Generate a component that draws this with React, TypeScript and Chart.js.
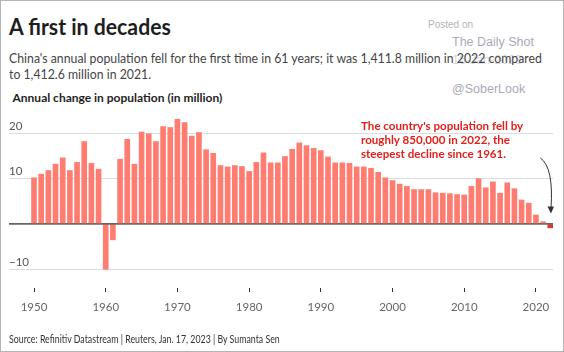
import React, { useEffect, useRef } from 'react';
import { Chart, registerables } from 'chart.js';

Chart.register(...registerables);

const years = [
  1950, 1951, 1952, 1953, 1954, 1955, 1956, 1957, 1958, 1959,
  1960, 1961, 1962, 1963, 1964, 1965, 1966, 1967, 1968, 1969,
  1970, 1971, 1972, 1973, 1974, 1975, 1976, 1977, 1978, 1979,
  1980, 1981, 1982, 1983, 1984, 1985, 1986, 1987, 1988, 1989,
  1990, 1991, 1992, 1993, 1994, 1995, 1996, 1997, 1998, 1999,
  2000, 2001, 2002, 2003, 2004, 2005, 2006, 2007, 2008, 2009,
  2010, 2011, 2012, 2013, 2014, 2015, 2016, 2017, 2018, 2019,
  2020, 2021, 2022,
];

const changeMillion = [
  10.2, 11.0, 11.8, 13.2, 14.6, 11.8, 13.6, 18.2, 13.4, 12.1,
  -10.0, -3.5, 14.3, 18.7, 13.2, 20.3, 19.9, 18.2, 21.5, 21.3,
  23.1, 22.4, 19.4, 20.2, 16.4, 15.6, 12.9, 12.6, 12.9, 12.7,
  11.6, 13.6, 15.7, 13.5, 13.5, 14.9, 16.5, 17.9, 17.3, 16.7,
  16.2, 14.8, 13.5, 13.5, 13.4, 12.6, 12.6, 12.3, 11.4, 10.2,
  9.6, 8.8, 8.3, 7.6, 7.6, 7.6, 6.9, 6.8, 6.7, 6.5,
  6.4, 8.3, 10.0, 8.0, 9.3, 6.8, 9.1, 7.8, 5.3, 4.6,
  2.0, 0.5, -0.85,
];

const xTickYears = [1950, 1960, 1970, 1980, 1990, 2000, 2010, 2020];
const yTickValues = [-10, 0, 10, 20];

const FONT = "'Source Sans Pro', Lato, 'Noto Sans', sans-serif";
const BAR = '#ff7c70';
const BAR_LAST = '#e8302c';

const arrowPlugin = {
  id: 'arrowPlugin',
  afterDatasetsDraw(chart: any) {
    const { ctx, scales } = chart;
    const x = scales.x;
    const y = scales.y;
    ctx.save();
    // zero line over bars
    ctx.strokeStyle = '#666';
    ctx.lineWidth = 1.5;
    ctx.beginPath();
    ctx.moveTo(chart.chartArea.left, y.getPixelForValue(0));
    ctx.lineTo(chart.chartArea.right, y.getPixelForValue(0));
    ctx.stroke();
    // curved arrow
    const sx = x.getPixelForValue(2020.6);
    const sy = y.getPixelForValue(14.6);
    const ex = x.getPixelForValue(2022.1);
    const ey = y.getPixelForValue(2.3);
    const cx = x.getPixelForValue(2022.5);
    const cy = y.getPixelForValue(12.5);
    ctx.strokeStyle = '#333';
    ctx.lineWidth = 1;
    ctx.beginPath();
    ctx.moveTo(sx, sy);
    ctx.quadraticCurveTo(cx, cy, ex, ey - 5);
    ctx.stroke();
    ctx.fillStyle = '#333';
    ctx.beginPath();
    ctx.moveTo(ex, ey);
    ctx.lineTo(ex - 3.5, ey - 7);
    ctx.lineTo(ex + 3, ey - 7);
    ctx.closePath();
    ctx.fill();
    ctx.restore();
  },
};

function ChartCanvas() {
  const ref = useRef<HTMLCanvasElement | null>(null);
  useEffect(() => {
    if (!ref.current) return;
    const data = years.map((yr, i) => ({ x: yr, y: changeMillion[i] }));
    const chart = new Chart(ref.current, {
      type: 'bar',
      data: {
        datasets: [
          {
            data: data as any,
            backgroundColor: years.map((yr) => (yr === 2022 ? BAR_LAST : BAR)),
            barThickness: 5,
            borderWidth: 0,
          },
        ],
      },
      options: {
        animation: false,
        responsive: false,
        devicePixelRatio: 1,
        layout: { padding: { left: 9, right: 11, top: 115, bottom: 34 } },
        plugins: { legend: { display: false }, tooltip: { enabled: false } },
        scales: {
          x: {
            type: 'linear',
            offset: false,
            min: 1946.51,
            max: 2022.38,
            afterBuildTicks: (s: any) => {
              s.ticks = xTickYears.map((v) => ({ value: v }));
            },
            afterFit: (s: any) => {
              s.height = 30;
            },
            border: { display: false },
            grid: { offset: false, drawOnChartArea: false, drawTicks: true, tickLength: 4, color: '#333' },
            ticks: {
              padding: 8,
              color: '#666',
              font: { family: FONT, size: 11.5 },
              maxRotation: 0,
              callback: (v: any) => String(v),
            },
          },
          y: {
            min: -14.13,
            max: 24.06,
            afterBuildTicks: (s: any) => {
              s.ticks = yTickValues.map((v) => ({ value: v }));
            },
            afterFit: (s: any) => {
              s.width = 0;
            },
            border: { display: false },
            grid: {
              drawTicks: false,
              color: (c: any) => (c.tick && c.tick.value === 0 ? '#666' : '#dcdcdc'),
              lineWidth: 1,
            },
            ticks: {
              mirror: true,
              padding: 0,
              labelOffset: -7,
              color: '#555',
              font: { family: FONT, size: 11.5 },
              callback: (v: any) => (v === 0 ? '' : v < 0 ? '\u2212' + Math.abs(v) : String(v)),
            },
          },
        },
      },
      plugins: [arrowPlugin],
    });
    return () => chart.destroy();
  }, []);
  return (
    <canvas
      ref={ref}
      width={564}
      height={352}
      style={{ position: 'absolute', left: 0, top: 0, width: 564, height: 352 }}
    />
  );
}

export default function App() {
  useEffect(() => {
    document.body.style.margin = '0';
  }, []);
  const abs = (extra: React.CSSProperties): React.CSSProperties => ({
    position: 'absolute',
    whiteSpace: 'nowrap',
    margin: 0,
    transformOrigin: '0 0',
    ...extra,
  });
  const WM = "'Liberation Sans', Arial, sans-serif";
  return (
    <div style={{ position: 'relative', width: 564, height: 352, background: '#fff', overflow: 'hidden', fontFamily: FONT }}>
      {/* watermark */}
      <div style={abs({ left: 428, top: 19, fontFamily: WM, fontSize: 10, lineHeight: '12px', color: '#b4b4b4' })}>Posted on</div>
      <div style={abs({ left: 452, top: 35, fontFamily: WM, fontSize: 12.5, lineHeight: '15px', color: '#aaaab8' })}>The Daily Shot</div>
      <div style={abs({ left: 452, top: 53, fontFamily: WM, fontSize: 12.5, lineHeight: '15px', color: '#d6d6dc' })}>16-Jan-2023</div>
      <div style={abs({ left: 452, top: 82, fontFamily: WM, fontSize: 12.5, lineHeight: '15px', color: '#aaaab8' })}>@SoberLook</div>

      <div style={abs({ left: 9, top: 14, fontSize: 22, fontWeight: 700, lineHeight: '26px', color: '#1e1e1e', transform: 'scaleX(0.965)' })}>A first in decades</div>
      <div style={abs({ left: 9, top: 50, fontSize: 14, lineHeight: '16px', color: '#444', transform: 'scaleX(0.878)' })}>
        China's annual population fell for the first time in 61 years; it was 1,411.8 million in 2022 compared
        <br />
        to 1,412.6 million in 2021.
      </div>
      <div style={abs({ left: 12.5, top: 90, fontSize: 12, fontWeight: 700, lineHeight: '15px', color: '#1e1e1e' })}>Annual change in population (in million)</div>

      <ChartCanvas />

      <div style={abs({ left: 361, top: 119, fontSize: 12, fontWeight: 700, lineHeight: '14px', color: '#e3211c', transform: 'scaleX(0.965)' })}>
        The country's population fell by
        <br />
        roughly 850,000 in 2022, the
        <br />
        steepest decline since 1961.
      </div>

      <div style={abs({ left: 9, top: 332, fontSize: 11, lineHeight: '13px', color: '#333', transform: 'scaleX(0.8)' })}>
        Source: Refinitiv Datastream | Reuters, Jan. 17, 2023 | By Sumanta Sen
      </div>

      <div style={{ position: 'absolute', left: 0, top: 0, width: 564, height: 352, boxSizing: 'border-box', border: '1px solid #b4b4b4', pointerEvents: 'none' }} />
    </div>
  );
}
